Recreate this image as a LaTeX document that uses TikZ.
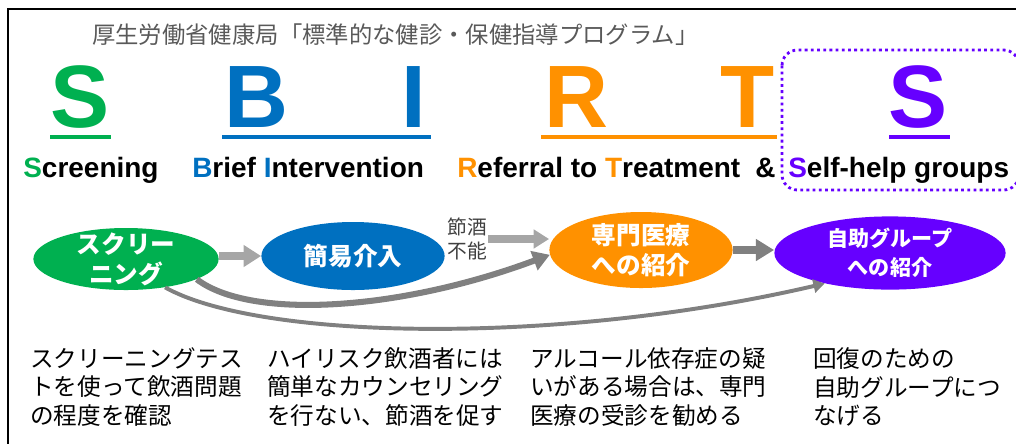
\documentclass[tikz,border=0pt]{standalone}
\usepackage{fontspec}
\setmainfont{Liberation Sans}
\newfontfamily\jpfont{Noto Sans CJK JP}
\usepackage{xcolor}
\usepackage{tikz}
\usetikzlibrary{shapes.geometric,arrows.meta,positioning}

\definecolor{sgreen}{HTML}{00B050}
\definecolor{sblue}{HTML}{0070C0}
\definecolor{sorange}{HTML}{FF9100}
\definecolor{spurple}{HTML}{6600FF}
\definecolor{arrowlight}{HTML}{A6A6A6}
\definecolor{arrowdark}{HTML}{808080}
\definecolor{titlegray}{HTML}{595959}

\tikzset{
    bigletter/.style={font=\fontsize{63}{63}\selectfont\bfseries, inner sep=0pt, anchor=base},
    keyword/.style={font=\fontsize{19.9}{24}\selectfont\bfseries, inner sep=0pt, anchor=base west},
    stage/.style={ellipse, draw=none, inner sep=0pt},
    stagetext/.style={text=white, align=center, inner sep=0pt,
        font=\jpfont\bfseries\fontsize{17.5}{21.3}\selectfont},
    note/.style={inner sep=0pt, anchor=west, align=left,
        font=\jpfont\fontsize{16.8}{20.3}\selectfont},
    lightarrow/.style={line width=5.7pt, arrowlight, -{Triangle[length=12.5pt,width=15pt]}},
    darkarrow/.style={line width=5.7pt, arrowdark, -{Triangle[length=13pt,width=15pt]}},
}

\begin{document}
\begin{tikzpicture}[x=0.025cm, y=-0.025cm]
    \useasboundingbox (0,0) rectangle (1016,443);
    % 枠
    \draw[line width=1.4pt] (8,460) -- (8,9) -- (1030,9);

    % タイトル
    \node[anchor=west, inner sep=0pt, text=titlegray, font=\jpfont\fontsize{16.6}{20}\selectfont] (title) at (92,35)
        {厚生労働省健康局「標準的な健診・保健指導プログラム」};

    % SBIRTS の頭文字と下線
    \foreach \n/\x/\l/\c in {s1/80/S/sgreen, b/256/B/sblue, i/414/I/sblue, r/576/R/sorange, t/748/T/sorange, s2/918/S/spurple} {
        \node[bigletter, text=\c] (big\n) at (\x,127) {\l};
    }
    \foreach \a/\b/\c in {50/111/sgreen, 222/431/sblue, 541/777/sorange, 889/950/spurple} {
        \draw[line width=2.8pt, \c] (\a,137) -- (\b,137);
    }

    % 英語の見出し
    \node[keyword] (kscreen) at (23,177) {\textcolor{sgreen}{S}creening};
    \node[keyword] (kbrief) at (192,177) {\textcolor{sblue}{B}rief \textcolor{sblue}{I}ntervention};
    \node[keyword] (krefer) at (457,177) {\textcolor{sorange}{R}eferral to \textcolor{sorange}{T}reatment};
    \node[keyword] (kand) at (755,177) {\&};
    \node[keyword] (kself) at (788,177) {\textcolor{spurple}{S}elf-help groups};
    \draw[spurple, line width=2pt, dash pattern=on 2pt off 2.4pt, rounded corners=11pt] (782,50) rectangle (1019,190);

    % 各段階
    \node[stage, fill=sgreen, minimum width=4.63cm, minimum height=1.55cm,
        label={[stagetext]center:スクリー\\ニング}] (screen) at (126,259) {};
    \node[stage, fill=sblue, minimum width=4.58cm, minimum height=1.7cm,
        label={[stagetext]center:簡易介入}] (brief) at (353,256) {};
    \node[stage, fill=sorange, minimum width=4.58cm, minimum height=1.9cm,
        label={[stagetext]center:専門医療\\への紹介}] (refer) at (641,250) {};
    \node[stage, fill=spurple, minimum width=5.78cm, minimum height=1.83cm,
        label={[stagetext, font=\jpfont\bfseries\fontsize{15}{20.6}\selectfont]center:自助グループ\\への紹介}] (selfhelp) at (890,253) {};
    \node[inner sep=1pt, align=center, text=black!75, font=\jpfont\fontsize{14}{17}\selectfont] (noquit) at (467,239) {節酒\\不能};

    % 矢印
    \draw[lightarrow] (screen.east |- brief.west) -- (brief.west);
    \draw[lightarrow, -{Triangle[length=11pt,width=13pt]}] (noquit.east) -- (noquit.east -| refer.west);
    \draw[darkarrow] (refer.east) -- (refer.east -| selfhelp.west);
    \draw[arrowdark, line width=4.3pt, -{Triangle[length=12pt,width=14pt]}]
        (screen.-16) .. controls +(54,41) and +(-150,56) .. (refer.183);
    \draw[arrowdark, line width=2.8pt, -{Triangle[length=8pt,width=9.5pt]}]
        (screen.-36) .. controls +(95,53) and +(-266,62) .. (selfhelp.205);

    % 説明文
    \node[note] (nscreen) at (30,387) {スクリーニングテス\\トを使って飲酒問題\\の程度を確認};
    \node[note] (nbrief) at (267,387) {ハイリスク飲酒者には\\簡単なカウンセリング\\を行ない、節酒を促す};
    \node[note] (nrefer) at (530,387) {アルコール依存症の疑\\いがある場合は、専門\\医療の受診を勧める};
    \node[note] (nself) at (813,387) {回復のための\\自助グループにつ\\なげる};
\end{tikzpicture}
\end{document}
